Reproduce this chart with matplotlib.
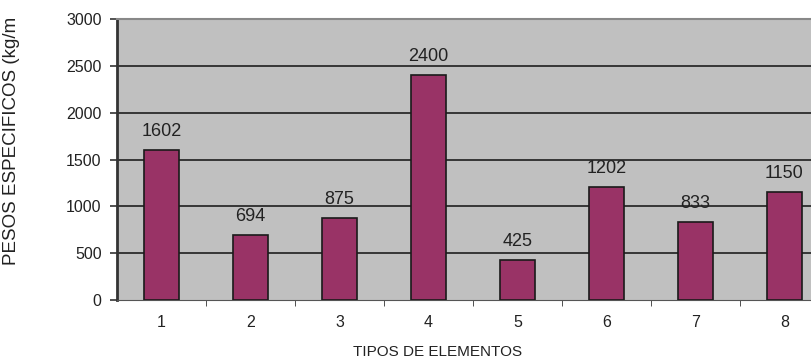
import numpy as np
import matplotlib.pyplot as plt

plt.rcParams['font.family'] = ['Liberation Sans', 'DejaVu Sans']

tipos = ['1', '2', '3', '4', '5', '6', '7', '8']
pesos = [1602, 694, 875, 2400, 425, 1202, 833, 1150]
y_ticks = [0, 500, 1000, 1500, 2000, 2500, 3000]

fig = plt.figure(figsize=(8.11, 3.63), dpi=100)
# the plot area runs off the right edge, as in the original
ax = fig.add_axes([117/811, 63/363, 712/811, 281/363])
ax.set_facecolor('#c0c0c0')

x = np.arange(len(tipos))
ax.bar(x, pesos, width=0.4, color='#993366', edgecolor='#1a1a1a', linewidth=1.2, zorder=3)

for xi, v in zip(x, pesos):
	ax.text(xi, v + 110, str(v), ha='center', va='bottom', fontsize=13, color='#222222')

ax.set_xlim(-0.5, len(tipos) - 0.5)
ax.set_ylim(0, 3000)
ax.set_yticks(y_ticks)
ax.set_yticklabels([str(t) for t in y_ticks], fontsize=11.5, color='#222222')
ax.set_xticks(x)
ax.set_xticklabels(tipos, fontsize=11.5, color='#222222')
ax.set_xticks(np.arange(0.5, len(tipos) - 0.5), minor=True)
ax.tick_params(axis='x', which='major', length=0, pad=11)
ax.tick_params(axis='x', which='minor', length=4, color='#333333')
ax.tick_params(axis='y', length=5, width=1.2, color='#333333', pad=6)

for t in y_ticks[1:-1]:
	ax.axhline(t, color='#111111', linewidth=1.1, zorder=1)

ax.spines['left'].set_color('#333333')
ax.spines['left'].set_linewidth(2)
ax.spines['bottom'].set_color('#555555')
ax.spines['top'].set_color('#888888')
ax.spines['top'].set_linewidth(1.5)
ax.spines['right'].set_visible(False)

fig.text(12/811, 1 - 141/363, 'PESOS ESPECIFICOS (kg/m', rotation=90, ha='center', va='center',
	fontsize=13.5, color='#222222')
fig.text(438/811, 1 - 352/363, 'TIPOS DE ELEMENTOS', ha='center', va='center',
	fontsize=11, color='#222222')

fig.savefig('out.png', dpi=100)
